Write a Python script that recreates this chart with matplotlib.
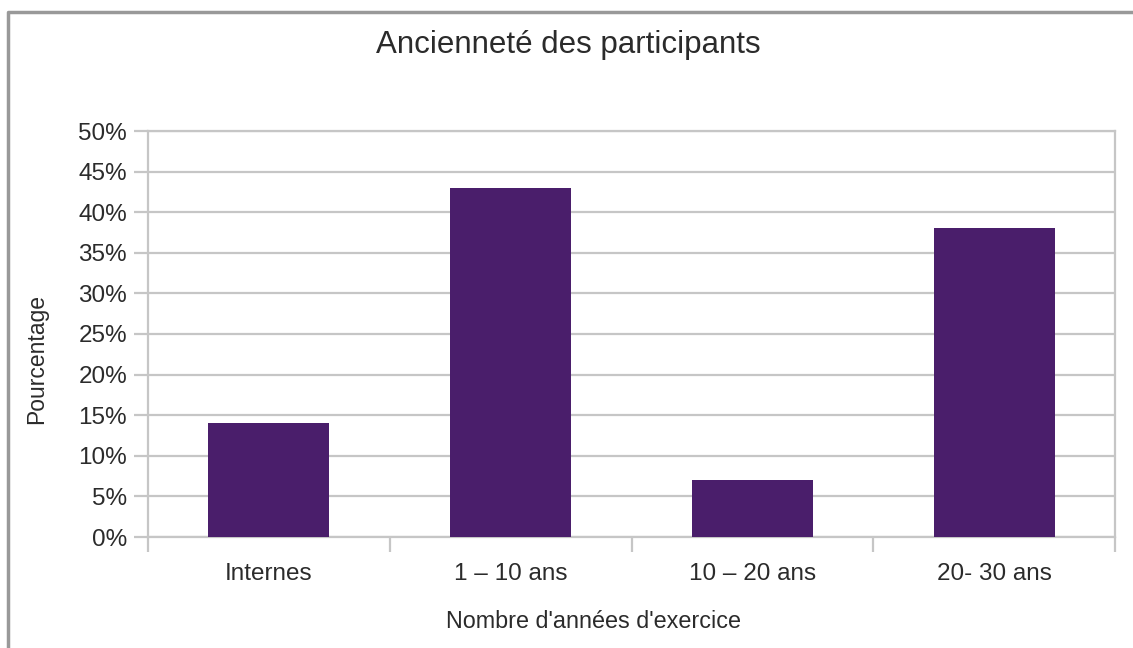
import matplotlib
matplotlib.use("Agg")
import matplotlib.pyplot as plt
from matplotlib import ticker
from matplotlib.lines import Line2D

plt.rcParams['font.family'] = ['Liberation Sans', 'DejaVu Sans']

categories = ["Internes", "1 – 10 ans", "10 – 20 ans", "20- 30 ans"]
values = [14, 43, 7, 38]
yticks = [0, 5, 10, 15, 20, 25, 30, 35, 40, 45, 50]

bar_color = '#4a1e6b'
grid_color = '#c6c6c6'
text_color = '#2b2b2b'

fig = plt.figure(figsize=(11.33, 6.48), dpi=100)
ax = fig.add_axes([148/1133, 1 - 537/648, (1115-148)/1133, (537-131)/648])

x = list(range(len(categories)))
ax.bar(x, values, width=0.5, color=bar_color, zorder=3)

ax.set_xlim(-0.5, len(categories) - 0.5)
ax.set_ylim(0, 50)
ax.set_yticks(yticks)
ax.yaxis.set_major_formatter(ticker.FuncFormatter(lambda v, p: f"{v:.0f}%"))
ax.set_xticks(x)
ax.set_xticklabels(categories)
ax.xaxis.set_minor_locator(ticker.FixedLocator([i - 0.5 for i in range(len(categories) + 1)]))

ax.grid(axis='y', color=grid_color, linewidth=1.6, zorder=0)
for s in ax.spines.values():
	s.set_color(grid_color)
	s.set_linewidth(1.6)

ax.tick_params(axis='y', which='major', length=10, width=1.6, color=grid_color,
	labelsize=17.5, labelcolor=text_color, pad=5)
ax.tick_params(axis='x', which='major', length=0, labelsize=17.5,
	labelcolor=text_color, pad=19)
ax.tick_params(axis='x', which='minor', length=11, width=1.6, color=grid_color)

fig.text(568/1133, 1 - 45/648, "Ancienneté des participants", ha='center', va='center',
	fontsize=22.5, color=text_color)
fig.text(594/1133, 1 - 622/648, "Nombre d'années d'exercice", ha='center', va='center',
	fontsize=16.8, color=text_color)
fig.text(37/1133, 1 - 359/648, "Pourcentage", ha='center', va='center',
	rotation=90, fontsize=16.5, color=text_color)

# gray frame (only top and left edges visible)
bx, by = 8/1133, 1 - 12/648
fig.add_artist(Line2D([bx, bx, 1.0], [0.0, by, by], transform=fig.transFigure,
	color='#999999', linewidth=2.5))

fig.savefig("out.png", dpi=100)
